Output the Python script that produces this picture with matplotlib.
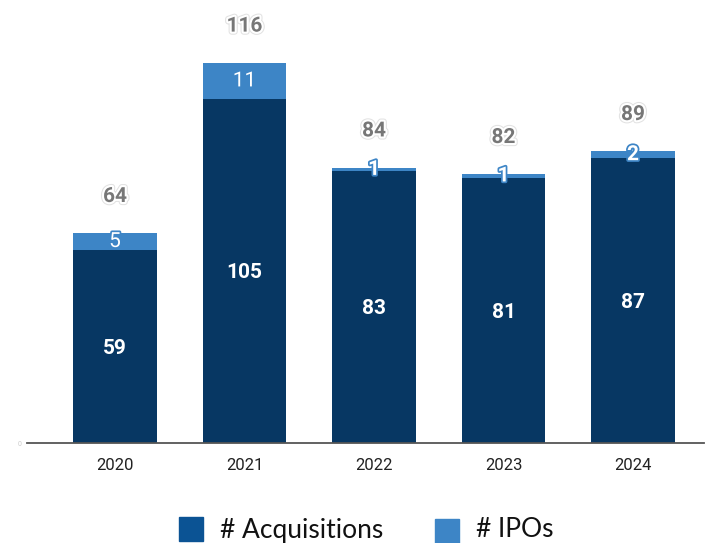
import matplotlib
matplotlib.use("Agg")
import matplotlib.pyplot as plt
import matplotlib.patheffects as pe
from matplotlib.patches import Rectangle
import numpy as np

years = ["2020", "2021", "2022", "2023", "2024"]
acquisitions = [59, 105, 83, 81, 87]
ipos = [5, 11, 1, 1, 2]
totals = [64, 116, 84, 82, 89]

ACQ_COLOR = "#073763"
IPO_COLOR = "#3d85c6"
ACQ_LEGEND = "#0b5394"

plt.rcParams["font.family"] = ["Roboto", "DejaVu Sans"]

fig = plt.figure(figsize=(7.05, 5.43), dpi=100)
ax = fig.add_axes([27 / 705, 100 / 543, 677 / 705, 443 / 543])

x = np.arange(len(years))
width = 0.648
ax.bar(x, acquisitions, width, color=ACQ_COLOR, zorder=2)
ax.bar(x, ipos, width, bottom=acquisitions, color=IPO_COLOR, zorder=2)

ax.set_xlim(-0.6795, 4.548)
ax.set_ylim(0, 135.2)

for spine in ["top", "right", "left"]:
    ax.spines[spine].set_visible(False)
ax.spines["bottom"].set_color("#555555")
ax.spines["bottom"].set_linewidth(1.3)
ax.spines["bottom"].set_zorder(3)

ax.set_xticks(x)
ax.set_xticklabels(years, fontsize=12, color="#222222")
ax.tick_params(axis="x", length=0, pad=11)
ax.set_yticks([0])
ax.set_yticklabels(["0"], fontsize=5, color="#cccccc")
ax.tick_params(axis="y", length=0, pad=4)

# acquisition values inside the dark segments
for xi, a in zip(x, acquisitions):
    ax.text(xi, a / 2 - 0.6, str(a), ha="center", va="center", color="white",
            fontsize=15, fontweight="bold", zorder=4)

# IPO values on the light segments
for xi, a, p in zip(x, acquisitions, ipos):
    ax.text(xi, a + p / 2, str(p), ha="center", va="center", color="white",
            fontsize=15, fontweight="bold" if p < 5 else "normal", zorder=5,
            path_effects=[pe.Stroke(linewidth=2.5, foreground=IPO_COLOR), pe.Normal()])

# totals above each stack
for xi, t in zip(x, totals):
    ax.annotate(str(t), (xi, t), xytext=(0, 26.5), textcoords="offset points",
                ha="center", va="center", color="#777777", fontsize=15,
                fontweight="bold", zorder=5,
                path_effects=[pe.Stroke(linewidth=4.5, foreground="#e2e2e2"),
                              pe.Stroke(linewidth=3, foreground="white"),
                              pe.Normal()])

# legend drawn along the bottom edge
W, H = 705, 543
fig.patches.append(Rectangle((179 / W, (H - 541) / H), 24 / W, 24 / H,
                             transform=fig.transFigure, color=ACQ_LEGEND, figure=fig))
fig.text(220 / W, (H - 538) / H, "# Acquisitions", fontsize=19,
         family=["Lato", "DejaVu Sans"], color="#111111", va="baseline")
fig.patches.append(Rectangle((435 / W, (H - 543) / H), 24 / W, 24 / H,
                             transform=fig.transFigure, color=IPO_COLOR, figure=fig))
fig.text(476 / W, (H - 537) / H, "# IPOs", fontsize=19,
         family=["Lato", "DejaVu Sans"], color="#111111", va="baseline")

fig.savefig("out.png", dpi=100)
